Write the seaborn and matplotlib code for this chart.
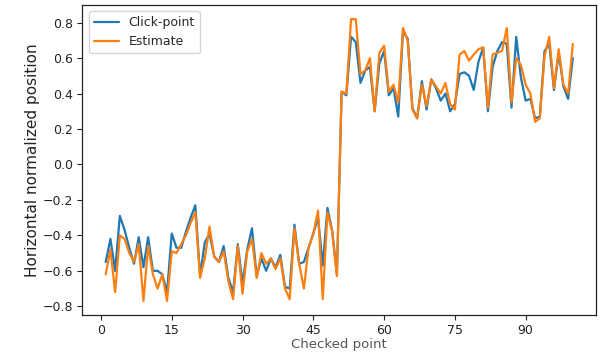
import matplotlib
matplotlib.use("Agg")
import matplotlib.pyplot as plt
import seaborn as sns
import pandas as pd
import numpy as np

checked_point = list(range(1, 101))

click_point = [
    -0.55, -0.42, -0.60, -0.29, -0.37, -0.47, -0.56, -0.41, -0.58, -0.41,
    -0.60, -0.60, -0.62, -0.72, -0.39, -0.47, -0.47, -0.38, -0.30, -0.23,
    -0.63, -0.44, -0.39, -0.52, -0.55, -0.46, -0.64, -0.72, -0.45, -0.67,
    -0.48, -0.36, -0.63, -0.53, -0.60, -0.53, -0.58, -0.51, -0.69, -0.70,
    -0.34, -0.56, -0.55, -0.47, -0.39, -0.30, -0.57, -0.245, -0.375, -0.62,
    0.41, 0.39, 0.72, 0.69, 0.46, 0.53, 0.55, 0.30, 0.57, 0.64,
    0.39, 0.43, 0.27, 0.75, 0.71, 0.32, 0.26, 0.47, 0.31, 0.48,
    0.43, 0.36, 0.40, 0.30, 0.34, 0.51, 0.52, 0.50, 0.42, 0.58,
    0.66, 0.30, 0.55, 0.64, 0.69, 0.68, 0.32, 0.72, 0.49, 0.36,
    0.37, 0.26, 0.27, 0.64, 0.68, 0.42, 0.63, 0.44, 0.37, 0.60,
]

estimate = [
    -0.62, -0.48, -0.72, -0.40, -0.42, -0.50, -0.55, -0.45, -0.77, -0.46,
    -0.62, -0.70, -0.62, -0.77, -0.49, -0.50, -0.45, -0.40, -0.33, -0.27,
    -0.64, -0.53, -0.35, -0.52, -0.55, -0.49, -0.66, -0.76, -0.46, -0.73,
    -0.49, -0.42, -0.64, -0.50, -0.56, -0.53, -0.59, -0.53, -0.70, -0.76,
    -0.36, -0.56, -0.70, -0.47, -0.39, -0.26, -0.76, -0.27, -0.38, -0.63,
    0.41, 0.40, 0.82, 0.82, 0.51, 0.53, 0.60, 0.30, 0.63, 0.67,
    0.41, 0.45, 0.35, 0.77, 0.70, 0.31, 0.26, 0.45, 0.33, 0.48,
    0.44, 0.40, 0.46, 0.34, 0.31, 0.62, 0.64, 0.585, 0.62, 0.65,
    0.66, 0.32, 0.62, 0.63, 0.64, 0.77, 0.35, 0.60, 0.56, 0.45,
    0.40, 0.24, 0.26, 0.61, 0.72, 0.43, 0.65, 0.45, 0.40, 0.68,
]

series_names = ["Click-point", "Estimate"]
y_ticks = [-0.8, -0.6, -0.4, -0.2, 0.0, 0.2, 0.4, 0.6, 0.8]
x_ticks = [0, 15, 30, 45, 60, 75, 90]

df = pd.DataFrame({
    "Checked point": checked_point * 2,
    "value": click_point + estimate,
    "series": [series_names[0]] * len(checked_point) + [series_names[1]] * len(checked_point),
})

sns.set_style("ticks")
plt.rcParams["font.family"] = ["DejaVu Sans"]

fig = plt.figure(figsize=(6.01, 3.56), dpi=100)
ax = fig.add_axes([0.137, 0.115, 0.855, 0.871])

sns.lineplot(data=df, x="Checked point", y="value", hue="series",
             palette=["#1f77b4", "#ff7f0e"], linewidth=1.6, ax=ax)

ax.set_xticks(x_ticks)
ax.set_yticks(y_ticks)
ax.set_yticklabels([f"{t:.1f}".replace("-", "\u2212") for t in y_ticks])
ax.tick_params(labelsize=9, direction="out", length=3.5, width=0.8, colors="#222222", pad=3)
ax.set_xlabel("Checked point", fontsize=9.5, color="#555555", labelpad=1)
ax.set_ylabel("Horizontal normalized position", fontsize=11, color="#222222", labelpad=2)
for s in ax.spines.values():
    s.set_visible(True)
    s.set_color("#222222")
    s.set_linewidth(0.9)

leg = ax.legend(loc="upper left", fontsize=9, frameon=True)
leg.get_frame().set_edgecolor("#cccccc")

fig.savefig("out.png", dpi=100)
